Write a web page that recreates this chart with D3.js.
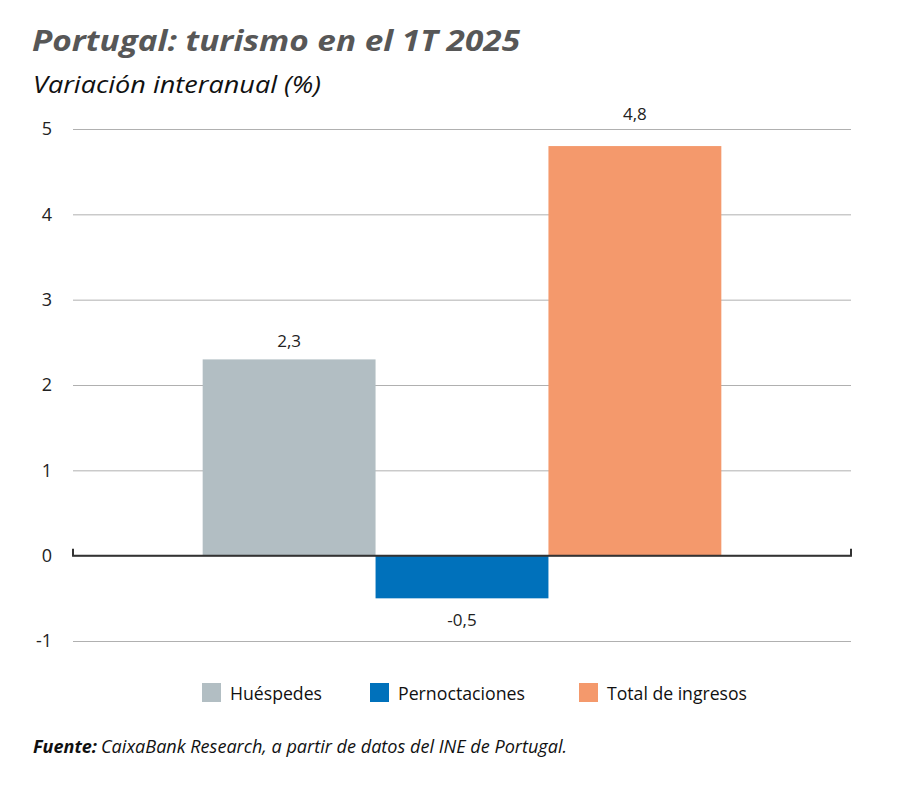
<!DOCTYPE html>
<html>
<head>
<meta charset="utf-8">
<script src="https://cdn.jsdelivr.net/npm/d3@7"></script>
<style>
  body { margin: 0; background: #fff; }
  text { font-family: "Open Sans", "Noto Sans", sans-serif; }
</style>
</head>
<body>
<svg id="chart" width="900" height="795"></svg>
<script>
// data
const categories = ["Huéspedes", "Pernoctaciones", "Total de ingresos"];
const values = [2.3, -0.5, 4.8];
const colors = ["#b2bec3", "#0071bb", "#f4996c"];
const yTicks = [-1, 0, 1, 2, 3, 4, 5];

const svg = d3.select("#chart");
const fmt = (v) => String(v).replace(".", ",");

const x = d3.scaleBand().domain(categories).range([73, 851]).paddingInner(0).paddingOuter(0.75);
const y = d3.scaleLinear().domain([-1, 5]).range([641, 129]);

// title
svg.append("text").attr("x", 32).attr("y", 51)
  .style("font-size", "28px").style("font-weight", "bold").style("font-style", "italic")
  .attr("fill", "#575757").attr("textLength", 488).attr("lengthAdjust", "spacingAndGlyphs")
  .text("Portugal: turismo en el 1T 2025");
svg.append("text").attr("x", 33).attr("y", 93)
  .style("font-size", "24px").style("font-style", "italic")
  .attr("fill", "#111").attr("textLength", 288).attr("lengthAdjust", "spacingAndGlyphs")
  .text("Variación interanual (%)");

// grid + y labels
const yAxis = d3.axisLeft(y).tickValues(yTicks).tickSize(-(851 - 73)).tickFormat(fmt).tickPadding(21);
const gy = svg.append("g").attr("transform", "translate(73,0)").call(yAxis);
gy.select(".domain").remove();
gy.selectAll(".tick line").attr("stroke", "#b0b0b0").attr("stroke-width", 1);
gy.selectAll(".tick text").style("font-size", "18px").attr("fill", "#222");

// bars
svg.append("g").selectAll("rect").data(values).join("rect")
  .attr("x", (d, i) => x(categories[i]))
  .attr("width", x.bandwidth())
  .attr("y", (d) => y(Math.max(0, d)))
  .attr("height", (d) => Math.abs(y(d) - y(0)))
  .attr("fill", (d, i) => colors[i]);

// value labels: keep positive labels off the gridlines
const labelY = (d) => {
  if (d < 0) return y(d) + 28;
  let b = y(d) - 12;
  const hit = yTicks.map(y).find((g) => g > b - 14 && g < b + 2);
  if (hit !== undefined) b = hit - 9;
  return b;
};
svg.append("g").selectAll("text").data(values).join("text")
  .attr("x", (d, i) => x(categories[i]) + x.bandwidth() / 2)
  .attr("y", labelY)
  .attr("text-anchor", "middle")
  .style("font-size", "17px").attr("fill", "#222")
  .text(fmt);

// zero line with end ticks
const z = y(0);
svg.append("path")
  .attr("d", `M73,${z - 7}V${z}H851V${z - 7}`)
  .attr("fill", "none").attr("stroke", "#333").attr("stroke-width", 2);

// legend
const legendX = [202, 370, 579];
const legendW = [92, 127, 140];
const lg = svg.append("g").selectAll("g").data(categories).join("g")
  .attr("transform", (d, i) => `translate(${legendX[i]},683)`);
lg.append("rect").attr("width", 19).attr("height", 19).attr("fill", (d, i) => colors[i]);
lg.append("text").attr("x", 28).attr("y", 17)
  .style("font-size", "18px").attr("fill", "#111")
  .attr("textLength", (d, i) => legendW[i]).attr("lengthAdjust", "spacingAndGlyphs")
  .text((d) => d);

// source
const src = svg.append("text").attr("y", 753)
  .style("font-size", "18px").style("font-style", "italic").attr("fill", "#111");
src.append("tspan").attr("x", 33).style("font-weight", "bold")
  .attr("textLength", 64).attr("lengthAdjust", "spacingAndGlyphs").text("Fuente:");
src.append("tspan").attr("x", 101)
  .attr("textLength", 466).attr("lengthAdjust", "spacingAndGlyphs")
  .text("CaixaBank Research, a partir de datos del INE de Portugal.");
</script>
</body>
</html>
